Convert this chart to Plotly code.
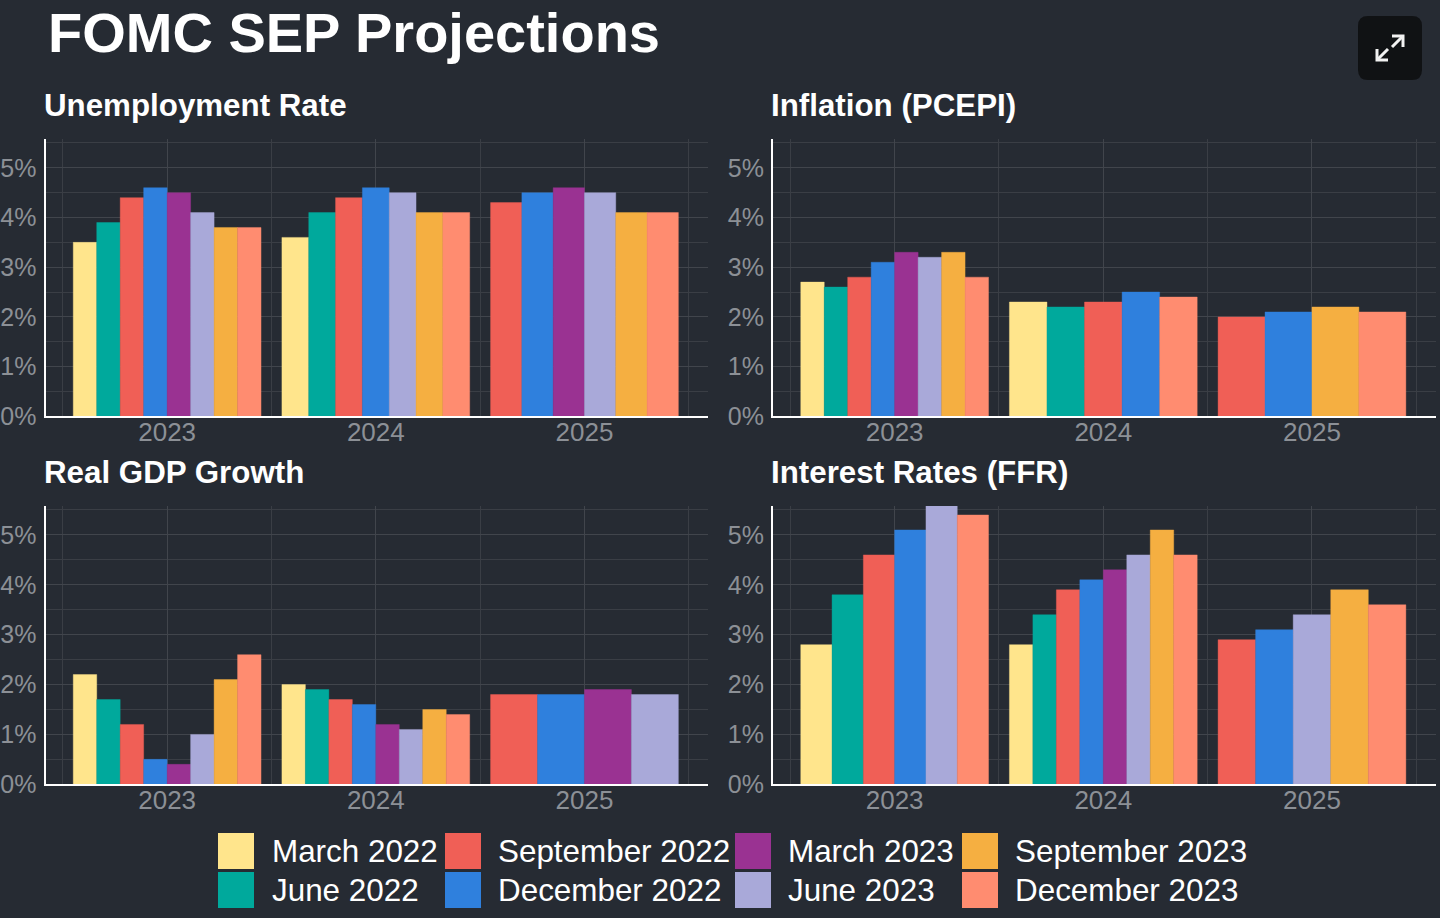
import plotly.graph_objects as go

years = ["2023", "2024", "2025"]
series = ["March 2022", "June 2022", "September 2022", "December 2022",
          "March 2023", "June 2023", "September 2023", "December 2023"]
colors = ["#FFE58C", "#00A99C", "#F05F56", "#2F80DD", "#9A3292", "#A9A9D9", "#F5AF41", "#FF8C70"]
N = None

# one row per year, one column per SEP release
unemployment = [[3.5, 3.9, 4.4, 4.6, 4.5, 4.1, 3.8, 3.8],
                [3.6, 4.1, 4.4, 4.6, N, 4.5, 4.1, 4.1],
                [N, N, 4.3, 4.5, 4.6, 4.5, 4.1, 4.1]]
inflation = [[2.7, 2.6, 2.8, 3.1, 3.3, 3.2, 3.3, 2.8],
             [2.3, 2.2, 2.3, 2.5, N, N, N, 2.4],
             [N, N, 2.0, 2.1, N, N, 2.2, 2.1]]
gdp = [[2.2, 1.7, 1.2, 0.5, 0.4, 1.0, 2.1, 2.6],
       [2.0, 1.9, 1.7, 1.6, 1.2, 1.1, 1.5, 1.4],
       [N, N, 1.8, 1.8, 1.9, 1.8, N, N]]
ffr = [[2.8, 3.8, 4.6, 5.1, N, 5.6, N, 5.4],
       [2.8, 3.4, 3.9, 4.1, 4.3, 4.6, 5.1, 4.6],
       [N, N, 2.9, 3.1, N, 3.4, 3.9, 3.6]]

panels = [("Unemployment Rate", unemployment), ("Inflation (PCEPI)", inflation),
          ("Real GDP Growth", gdp), ("Interest Rates (FFR)", ffr)]
y_ticks = [0, 1, 2, 3, 4, 5]
y_labels = ["0%", "1%", "2%", "3%", "4%", "5%"]

W, H = 1440, 918
BG = "#262B33"
TICK = "#8C9096"
GRID_MAJOR = "#41454C"
GRID_MINOR = "#3A3E45"
boxes = [(45.5, 708.2, 139, 416.3), (773, 1435.7, 139, 416.3),
         (45.5, 708.2, 506, 784.3), (773, 1435.7, 506, 784.3)]
title_x = [44, 771, 44, 771]
TOTAL = 0.9  # share of a category taken by the dodged bars


def px(x):
    return x / W


def py(y):
    return 1 - y / H


fig = go.Figure()
layout = dict(
    width=W, height=H, autosize=False, paper_bgcolor=BG, plot_bgcolor=BG,
    margin=dict(l=0, r=0, t=0, b=0, pad=0), barmode="overlay", showlegend=False,
    font=dict(family="Liberation Sans"),
)
annotations = []
shapes = []

for p, ((title, table), (x0, x1, y0, y1)) in enumerate(zip(panels, boxes)):
    sfx = "" if p == 0 else str(p + 1)
    for s, (name, color) in enumerate(zip(series, colors)):
        xs, ys, ws = [], [], []
        for yi, row in enumerate(table):
            present = [i for i, v in enumerate(row) if v is not None]
            if row[s] is None:
                continue
            w = TOTAL / len(present)
            xs.append(yi + 1 - TOTAL / 2 + w * (present.index(s) + 0.5))
            ys.append(row[s])
            ws.append(w)
        fig.add_trace(go.Bar(x=xs, y=ys, width=ws, name=name,
                             marker=dict(color=color, line=dict(width=0.4, color=color)),
                             xaxis="x" + sfx, yaxis="y" + sfx))
    layout["xaxis" + sfx] = dict(
        domain=[px(x0), px(x1)], range=[0.417, 3.593], anchor="y" + sfx, automargin=False,
        tickmode="array", tickvals=[1, 2, 3], ticktext=years,
        tickfont=dict(size=26, color=TICK), ticks="", ticklabelstandoff=-9,
        showline=True, linecolor="white", linewidth=2,
        showgrid=True, gridcolor=GRID_MAJOR, gridwidth=1, zeroline=False,
        minor=dict(tickmode="array", tickvals=[0.5, 1.5, 2.5, 3.5], showgrid=True,
                   gridcolor=GRID_MINOR, gridwidth=1, ticks=""),
    )
    layout["yaxis" + sfx] = dict(
        domain=[py(y1), py(y0)], range=[0, 5.58], anchor="x" + sfx, automargin=False,
        tickmode="array", tickvals=y_ticks, ticktext=y_labels,
        tickfont=dict(size=25, color=TICK), ticks="", ticklabelstandoff=2,
        showline=True, linecolor="white", linewidth=2,
        showgrid=True, gridcolor=GRID_MAJOR, gridwidth=1, zeroline=False,
        minor=dict(tickmode="array", tickvals=[0.5, 1.5, 2.5, 3.5, 4.5, 5.5], showgrid=True,
                   gridcolor=GRID_MINOR, gridwidth=1, ticks=""),
    )
    annotations.append(dict(text="<b>%s</b>" % title, xref="paper", yref="paper", x=px(title_x[p] - 2), y=py(y0 - 34),
                            xanchor="left", yanchor="middle", showarrow=False,
                            font=dict(size=31.3, color="white")))

annotations.append(dict(text="<b>FOMC SEP Projections</b>", xref="paper", yref="paper", x=px(46), y=py(33),
                        xanchor="left", yanchor="middle", showarrow=False,
                        font=dict(size=56, color="white")))

# legend: two rows, four columns
swatch_x = [218, 445, 735, 962]
text_x = [269.5, 495.5, 785.5, 1012.5]
rows_y = [(833, 869), (872, 908)]
for s, (name, color) in enumerate(zip(series, colors)):
    col, row = s // 2, s % 2
    shapes.append(dict(type="rect", xref="paper", yref="paper", layer="above",
                       x0=px(swatch_x[col]), x1=px(swatch_x[col] + 36),
                       y0=py(rows_y[row][1]), y1=py(rows_y[row][0]),
                       fillcolor=color, line=dict(width=0)))
    annotations.append(dict(text=name, xref="paper", yref="paper", x=px(text_x[col]),
                            y=py(sum(rows_y[row]) / 2), xanchor="left", yanchor="middle",
                            showarrow=False, font=dict(size=31.4, color="white")))


# expand button
def path(points):
    return "M " + " L ".join("%.5f,%.5f" % (px(a), py(b)) for a, b in points)


r = 10
bx0, bx1, by0, by1 = 1358, 1422, 16, 80
button = ("M %.5f,%.5f L %.5f,%.5f Q %.5f,%.5f %.5f,%.5f L %.5f,%.5f Q %.5f,%.5f %.5f,%.5f "
          "L %.5f,%.5f Q %.5f,%.5f %.5f,%.5f L %.5f,%.5f Q %.5f,%.5f %.5f,%.5f Z" % (
              px(bx0 + r), py(by0), px(bx1 - r), py(by0), px(bx1), py(by0), px(bx1), py(by0 + r),
              px(bx1), py(by1 - r), px(bx1), py(by1), px(bx1 - r), py(by1),
              px(bx0 + r), py(by1), px(bx0), py(by1), px(bx0), py(by1 - r),
              px(bx0), py(by0 + r), px(bx0), py(by0), px(bx0 + r), py(by0)))
shapes.append(dict(type="path", xref="paper", yref="paper", layer="above", path=button,
                   fillcolor="#101214", line=dict(width=0)))
icon = [[(1392, 47), (1402, 37)], [(1392, 36), (1403, 36), (1403, 47)],
        [(1388, 49), (1378, 59)], [(1377, 49), (1377, 60), (1388, 60)]]
for pts in icon:
    shapes.append(dict(type="path", xref="paper", yref="paper", layer="above",
                       path=path(pts), line=dict(color="#F2F2F2", width=3)))

layout["annotations"] = annotations
layout["shapes"] = shapes
fig.update_layout(**layout)
fig.write_html("out.html", config=dict(displayModeBar=False),
               post_script="document.documentElement.style.margin='0';document.body.style.margin='0';"
                           "document.body.style.background='%s';document.body.style.overflow='hidden';" % BG)
